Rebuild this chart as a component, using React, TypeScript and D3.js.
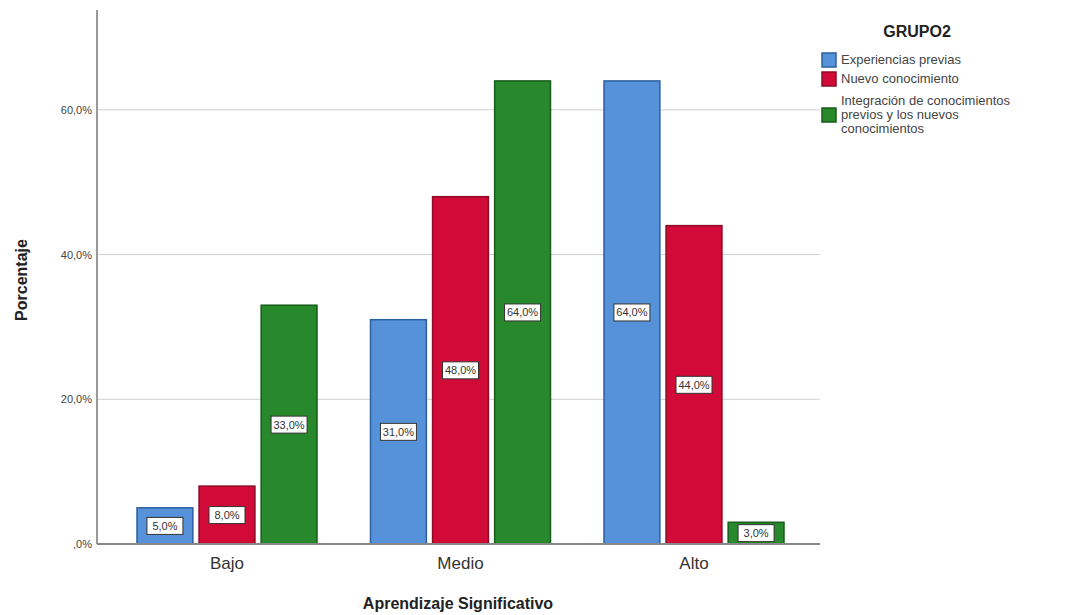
import React from "react";
import * as d3 from "d3";

const categories = ["Bajo", "Medio", "Alto"];
const seriesNames = [
  "Experiencias previas",
  "Nuevo conocimiento",
  "Integración de conocimientos previos y los nuevos conocimientos",
];
const experiencias = [5, 31, 64];
const nuevo = [8, 48, 44];
const integracion = [33, 64, 3];
const yTicks = [0, 20, 40, 60];
const legendLines = [
  ["Experiencias previas"],
  ["Nuevo conocimiento"],
  ["Integración de conocimientos", "previos y los nuevos", "conocimientos"],
];

const colors = ["#5592da", "#d10a38", "#27892b"];
const strokes = ["#2c5f9e", "#8e0a26", "#175c19"];

const fmt = (v: number) => (v === 0 ? ",0%" : v.toFixed(1).replace(".", ",") + "%");

export default function App() {
  const W = 1066, H = 615;
  const x0 = 97, x1 = 820, yBase = 544, yTop = 10;
  const y = d3.scaleLinear().domain([0, 73.8]).range([yBase, yTop]);
  const xBand = d3.scaleBand<string>().domain(categories).range([110.25, 810.75]);
  const xInner = d3.scaleBand<number>().domain([0, 1, 2]).range([0, 180]).paddingInner(0.1);
  const series = [experiencias, nuevo, integracion];
  const font = "Arial, 'Liberation Sans', sans-serif";

  return (
    <svg width={W} height={H} style={{ position: "absolute", left: 0, top: 0, background: "#fff" }} fontFamily={font}>
      {/* gridlines */}
      {yTicks.filter((t) => t > 0).map((t) => (
        <line key={t} x1={x0} x2={x1} y1={y(t)} y2={y(t)} stroke="#d0d0d0" strokeWidth={1} />
      ))}
      {/* bars */}
      {categories.map((c, ci) => {
        const cx = xBand(c)! + xBand.bandwidth() / 2 - 90;
        return series.map((s, si) => {
          const bx = cx + xInner(si)!;
          const bw = xInner.bandwidth();
          const v = s[ci];
          return (
            <g key={c + si}>
              <rect x={bx} y={y(v)} width={bw} height={yBase - y(v)} fill={colors[si]} stroke={strokes[si]} strokeWidth={1.5} />
            </g>
          );
        });
      })}
      {/* axes */}
      <line x1={x0} x2={x0} y1={yTop} y2={yBase} stroke="#999" strokeWidth={2} />
      <line x1={x0} x2={x1} y1={yBase} y2={yBase} stroke="#888" strokeWidth={2} />
      {yTicks.map((t) => (
        <text key={t} x={92} y={y(t) + 4} textAnchor="end" fontSize={11} fill="#444">
          {fmt(t)}
        </text>
      ))}
      {/* value labels */}
      {categories.map((c, ci) => {
        const cx = xBand(c)! + xBand.bandwidth() / 2 - 90;
        return series.map((s, si) => {
          const bw = xInner.bandwidth();
          const mx = cx + xInner(si)! + bw / 2;
          const v = s[ci];
          const my = (y(v) + yBase) / 2;
          return (
            <g key={"l" + c + si}>
              <rect x={mx - 18} y={my - 8.5} width={36} height={17} fill="#fff" stroke="#333" strokeWidth={1} />
              <text x={mx} y={my + 4} textAnchor="middle" fontSize={11} fill="#333">
                {fmt(v)}
              </text>
            </g>
          );
        });
      })}
      {/* category labels */}
      {categories.map((c) => (
        <text key={c} x={xBand(c)! + xBand.bandwidth() / 2} y={569} textAnchor="middle" fontSize={17} fill="#333">
          {c}
        </text>
      ))}
      <text x={458} y={609} textAnchor="middle" fontSize={16} fontWeight="bold" fill="#222">
        Aprendizaje Significativo
      </text>
      <text transform={`translate(27,280) rotate(-90)`} textAnchor="middle" fontSize={16} fontWeight="bold" fill="#222">
        Porcentaje
      </text>
      {/* legend */}
      <text x={917} y={37} textAnchor="middle" fontSize={16} fontWeight="bold" fill="#222">
        GRUPO2
      </text>
      {legendLines.map((lines, i) => {
        const top = [53, 72, 94][i];
        const n = lines.length;
        const sy = top + (n * 14) / 2 - 7;
        return (
          <g key={i}>
            <rect x={822} y={sy} width={14} height={14} fill={colors[i]} stroke={strokes[i]} strokeWidth={1.5} />
            {lines.map((ln, li) => (
              <text key={li} x={841} y={top + 11 + li * 14} fontSize={13} fill="#444" textLength={undefined}>
                {ln}
              </text>
            ))}
          </g>
        );
      })}
      <title>{seriesNames.join(", ")}</title>
    </svg>
  );
}
